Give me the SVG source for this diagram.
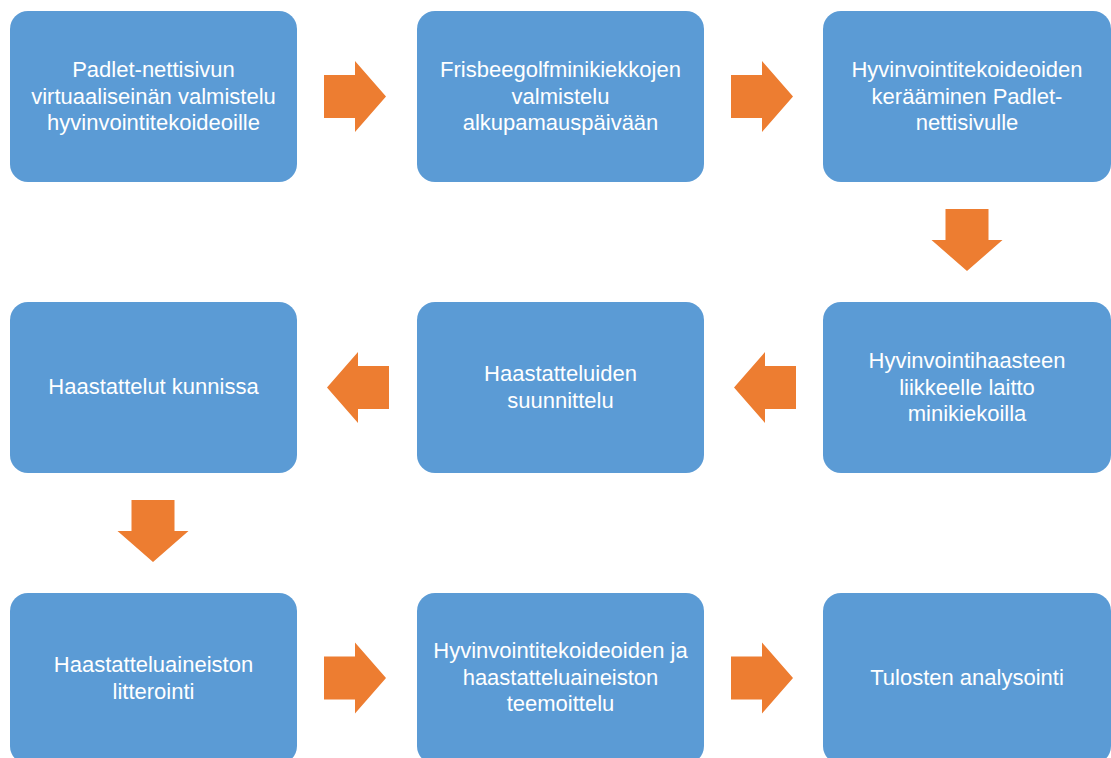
<svg xmlns="http://www.w3.org/2000/svg" width="1111" height="758" viewBox="0 0 1111 758">
  <style>
    .box { fill: #5B9BD5; }
    .arrow { fill: #ED7D31; }
    .label { font-family: "Liberation Sans", Arial, sans-serif; font-size: 22px; fill: #FFFFFF; text-anchor: middle; }
  </style>
  <defs>
    <!-- block arrows drawn around the origin, pointing right -->
    <path id="blockArrow" d="M-31,-21.5 H0 V-35.5 L31,0 L0,35.5 V21.5 H-31 Z"/>
  </defs>
  <rect width="1111" height="758" fill="#FFFFFF"/>

  <g id="connectors" class="arrow">
    <use href="#blockArrow" transform="translate(355,96.5)"/>
    <use href="#blockArrow" transform="translate(762,96.5)"/>
    <use href="#blockArrow" transform="translate(967,240) rotate(90)"/>
    <use href="#blockArrow" transform="translate(765,387.5) rotate(180)"/>
    <use href="#blockArrow" transform="translate(358,387.5) rotate(180)"/>
    <use href="#blockArrow" transform="translate(153,531) rotate(90)"/>
    <use href="#blockArrow" transform="translate(355,678)"/>
    <use href="#blockArrow" transform="translate(762,678)"/>
  </g>

  <g id="n1">
    <rect class="box" x="10" y="11" width="287" height="171" rx="18"/>
    <text class="label"><tspan x="153.5" y="77">Padlet-nettisivun</tspan><tspan x="153.5" y="103.5">virtuaaliseinän valmistelu</tspan><tspan x="153.5" y="130">hyvinvointitekoideoille</tspan></text>
  </g>
  <g id="n2">
    <rect class="box" x="417" y="11" width="287" height="171" rx="18"/>
    <text class="label"><tspan x="560.5" y="77">Frisbeegolfminikiekkojen</tspan><tspan x="560.5" y="103.5">valmistelu</tspan><tspan x="560.5" y="130">alkupamauspäivään</tspan></text>
  </g>
  <g id="n3">
    <rect class="box" x="823" y="11" width="288" height="171" rx="18"/>
    <text class="label"><tspan x="967" y="77">Hyvinvointitekoideoiden</tspan><tspan x="967" y="103.5">kerääminen Padlet-</tspan><tspan x="967" y="130">nettisivulle</tspan></text>
  </g>
  <g id="n4">
    <rect class="box" x="823" y="302" width="288" height="171" rx="18"/>
    <text class="label"><tspan x="967" y="368">Hyvinvointihaasteen</tspan><tspan x="967" y="394.5">liikkeelle laitto</tspan><tspan x="967" y="421">minikiekoilla</tspan></text>
  </g>
  <g id="n5">
    <rect class="box" x="417" y="302" width="287" height="171" rx="18"/>
    <text class="label"><tspan x="560.5" y="381">Haastatteluiden</tspan><tspan x="560.5" y="407.5">suunnittelu</tspan></text>
  </g>
  <g id="n6">
    <rect class="box" x="10" y="302" width="287" height="171" rx="18"/>
    <text class="label" x="153.5" y="394">Haastattelut kunnissa</text>
  </g>
  <g id="n7">
    <rect class="box" x="10" y="593" width="287" height="171" rx="18"/>
    <text class="label"><tspan x="153.5" y="672">Haastatteluaineiston</tspan><tspan x="153.5" y="698.5">litterointi</tspan></text>
  </g>
  <g id="n8">
    <rect class="box" x="417" y="593" width="287" height="171" rx="18"/>
    <text class="label"><tspan x="560.5" y="658">Hyvinvointitekoideoiden ja</tspan><tspan x="560.5" y="684.5">haastatteluaineiston</tspan><tspan x="560.5" y="711">teemoittelu</tspan></text>
  </g>
  <g id="n9">
    <rect class="box" x="823" y="593" width="288" height="171" rx="18"/>
    <text class="label" x="967" y="685">Tulosten analysointi</text>
  </g>
</svg>
